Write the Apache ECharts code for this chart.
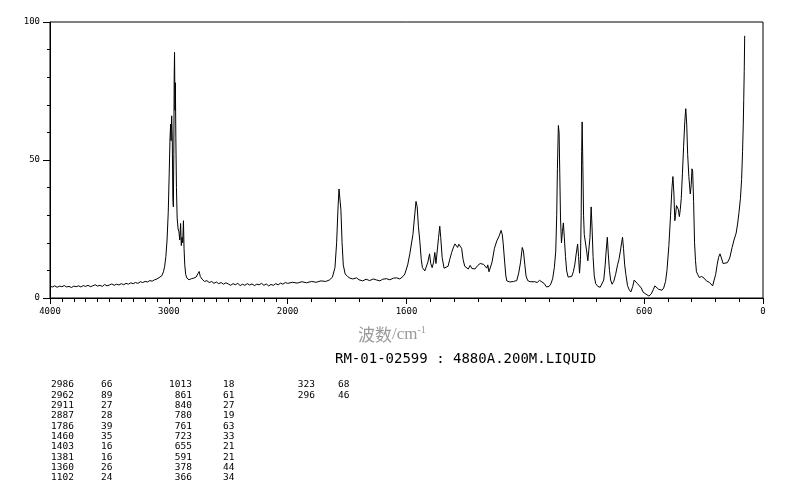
<!DOCTYPE html>
<html><head><meta charset="utf-8">
<script src="https://cdn.jsdelivr.net/npm/echarts@6/dist/echarts.min.js"></script>
<style>html,body{margin:0;padding:0;background:#fff}#c{width:794px;height:482px}</style>
</head><body><div id="c"></div><script>
// Spectrum: [wavenumber (cm-1), intensity]
const spectrum = [
[4000,4.2],[3980,4.0],[3960,4.4],[3940,3.9],[3920,4.3],[3900,4.1],[3880,4.5],[3860,4.0],[3840,4.2],[3820,3.8],
[3800,4.3],[3780,4.1],[3760,4.4],[3740,4.0],[3720,4.5],[3700,4.2],[3680,4.6],[3660,4.1],[3640,4.4],[3620,4.8],
[3600,4.3],[3580,4.6],[3560,4.2],[3540,4.9],[3520,4.4],[3500,4.7],[3480,5.1],[3460,4.6],[3440,5.0],[3420,4.7],
[3400,5.2],[3380,4.8],[3360,5.3],[3340,5.0],[3320,5.5],[3300,5.2],[3280,5.6],[3260,5.3],[3240,5.9],[3220,5.6],
[3200,6.0],[3180,5.8],[3160,6.3],[3140,6.1],[3120,6.6],[3100,6.9],[3085,7.5],
[3060,8],[3045,9.5],[3035,11.5],[3025,15],[3015,21],[3005,31],[2997,45],[2990,58],[2985,63],[2981,57],
[2976,66],[2971,58],[2966,36],[2962,33],[2958,52],[2955,80],[2952,89],[2948,68],[2945,78],[2941,58],
[2936,40],[2930,29],[2922,25],[2915,24],[2908,21],[2901,27],[2895,19],[2889,22],[2883,20],[2877,28],
[2872,18],[2866,12],[2858,8.5],
[2848,7.2],[2830,6.6],[2810,7.0],[2790,7.2],[2770,7.6],[2755,8.8],[2745,9.6],[2735,7.8],[2720,6.8],[2700,6.0],
[2680,6.3],[2660,5.6],[2640,6.0],[2620,5.3],[2600,5.8],[2580,5.2],[2560,5.6],[2540,5.0],[2520,5.5],[2500,5.1],
[2480,4.6],[2460,5.2],[2440,4.8],[2420,5.3],[2400,4.5],[2380,5.0],[2360,4.6],[2340,5.2],[2320,4.7],[2300,5.1],
[2280,4.5],[2260,5.0],[2240,4.8],[2220,5.3],[2200,4.6],[2180,5.1],[2160,4.4],[2140,4.9],[2120,4.6],[2100,5.2],
[2080,4.8],[2060,5.4],[2040,5.0],[2020,5.6],[2000,5.3],[1980,5.7],[1960,5.4],[1940,5.9],[1920,5.5],[1900,6.0],
[1880,5.7],[1860,6.2],[1840,6.0],[1825,6.5],[1812,7.5],[1801,11],[1794,20],[1788,33],[1784,39.5],[1780,39],
[1776,32],[1771,20],[1766,12],[1758,8.7],[1748,7.8],[1738,7.2],[1726,6.9],[1710,7.3],[1700,6.6],[1684,6.2],
[1670,6.8],[1655,6.3],[1640,6.9],[1625,6.5],[1612,6.2],[1600,6.8],[1585,7.0],[1570,6.6],[1555,7.2],[1541,7.3],
[1528,6.9],[1515,7.8],[1507,8.7],[1495,12],[1486,16],[1473,23],[1465,30.5],[1460,35],[1455,33],[1450,26],
[1444,20.7],[1438,14],[1433,11],[1423,9.8],[1417,10.2],[1410,13],[1403,16],[1398,12.5],[1392,11],[1386,13],
[1381,16.5],[1376,12.5],[1370,13],[1365,22],[1360,26],[1356,22],[1350,14.7],[1342,10.8],[1334,10.5],[1325,11.5],
[1318,14],[1310,16.5],[1302,18.5],[1296,19.6],[1290,19.8],[1285,18.3],[1280,19.5],[1274,20],[1268,18],[1262,14],
[1255,11.5],[1247,11],[1240,10.5],[1232,11.8],[1225,10.7],[1212,10.5],[1200,11.8],[1190,12.5],[1184,12.8],[1176,12.2],
[1168,11.5],[1162,10.8],[1158,12],[1153,9.5],[1148,9.2],[1140,13],[1130,18],[1120,20.7],[1110,22.5],[1102,24.5],
[1097,23],[1093,19.6],[1087,13],[1082,8],[1078,6.2],[1065,5.8],[1050,6.0],[1036,6.3],[1028,9],[1020,13],
[1013,18.3],[1008,17],[1002,12],[997,8],[990,6.3],[980,5.9],[973,5.6],[960,5.9],[950,5.6],[940,6.4],
[930,5.8],[920,5.2],[911,4.0],[900,4.2],[893,5.0],[885,7],[878,11],[872,17],[868,30],[865,47],
[861,62.5],[858,60],[855,45],[852,29],[848,20],[844,24],[840,27.2],[836,22],[831,15],[826,9.8],
[820,7.6],[812,7.4],[805,7.8],[798,9.5],[792,12],[786,16],[780,19.5],[776,15],[772,9],[768,14],
[765,30],[763,53],[761,63.8],[758,48],[755,30],[752,23],[747,23],[742,17],[737,13.5],[732,13],
[728,22],[723,33],[719,25],[715,15],[710,8],[704,5.2],[695,4.2],[685,3.9],[677,4.4],[670,6.5],
[664,12],[660,17],[655,22],[651,16],[646,10],[641,6.5],[635,5],[628,6],[620,8.6],[612,12],
[606,14],[600,17],[595,20],[591,22],[587,18],[582,12],[577,8.5],[570,4.5],[563,3],[556,2.2],
[548,4.2],[542,6.5],[536,6],[528,5.2],[520,4.8],[512,3.6],[505,2.2],[496,1.6],[488,1],[480,0.7],
[470,1.5],[462,3],[455,4.4],[447,3.8],[440,3.2],[432,2.5],[425,2.8],[418,3.6],[410,6],[404,10],
[396,19],[389,30],[383,40],[379,44],[375,38],[371,28],[368,30],[364,33.5],[360,34],[356,32],
[352,29.5],[348,32],[344,36],[339,45],[334,55],[329,64],[325,68.6],[321,63],[317,52],[312,44],
[306,37.7],[302,41],[299,46.8],[296,46],[292,35],[288,20],[284,13.5],[280,9.5],[275,8.6],[268,7.4],
[258,7.8],[248,7.2],[238,6.2],[225,5.6],[212,4.4],[206,4.8],[199,8.6],[193,12],[187,14.7],[181,16],
[175,14.5],[168,12.5],[160,12.3],[150,12.8],[140,14.5],[130,18.3],[122,21],[113,23.5],[107,26.8],[101,31],
[95,36],[90,43],[86,53],[83,63],[81,72],[79,82],[77,95]
];
// Axis tick labels (wavenumber position -> printed text)
const xLabelWaves = [4000, 3000, 2000, 1500, 500, 0];
const xLabelTexts = ['4000', '3000', '2000', '1600', '600', '0'];
// Peak table
const peakWaves = [2986,2962,2911,2887,1786,1460,1403,1381,1360,1102,1013,861,840,780,761,723,655,591,378,366,323,296];
const peakValues = [66,89,27,28,39,35,16,16,26,24,18,61,27,19,63,33,21,21,44,34,68,46];
const sampleText = 'RM-01-02599 : 4880A.200M.LIQUID';
const axisTitleCn = '波数';

// Broken axis: 4000-2000 compressed to half the scale of 2000-0
function toAxis(w) { return w <= 2000 ? w : 2000 + (w - 2000) / 2; }
const minorTickWaves = [];
for (let w = 0; w <= 4000; w += 100) minorTickWaves.push(w);
const labelMap = {};
xLabelWaves.forEach((w, i) => { labelMap[toAxis(w)] = xLabelTexts[i]; });

const GRID = {left: 50, right: 31, top: 22, bottom: 184};
const gridW = 794 - GRID.left - GRID.right;
const gridH = 482 - GRID.top - GRID.bottom;

const mono = 'DejaVu Sans Mono';
const graphics = [];
const rowsPerCol = 10;
const colRight = [74, 192, 315];
const colValLeft = [101, 223, 338];
peakWaves.forEach((w, i) => {
  const col = Math.floor(i / rowsPerCol), row = i % rowsPerCol;
  const y = 385 + row * 10.3;
  graphics.push({type: 'text', x: colRight[col], y: y, style: {text: String(w), fill: '#000', font: '9.5px "' + mono + '"', textAlign: 'right', textVerticalAlign: 'middle'}});
  graphics.push({type: 'text', x: colValLeft[col], y: y, style: {text: String(peakValues[i]), fill: '#000', font: '9.5px "' + mono + '"', textAlign: 'left', textVerticalAlign: 'middle'}});
});

const chart = echarts.init(document.getElementById('c'), null, {renderer: 'canvas'});
const axisFont = {fontFamily: mono, fontSize: 9, color: '#000'};
chart.setOption({
  animation: false,
  backgroundColor: '#fff',
  grid: Object.assign({show: true, borderColor: '#000', borderWidth: 1}, GRID),
  title: [
    {text: '{cn|' + axisTitleCn + '}{t|/cm}{sup|-1}', left: 353, top: 320,
     textStyle: {rich: {
       cn: {fontFamily: 'Noto Sans CJK SC', fontSize: 17, color: '#999', fontWeight: 'normal'},
       t: {fontFamily: 'Liberation Serif', fontSize: 17, color: '#999', fontWeight: 'normal'},
       sup: {fontFamily: 'Liberation Serif', fontSize: 10, color: '#999', fontWeight: 'normal', padding: [0, 0, 9, 0]}
     }}},
    {text: sampleText, left: 330, top: 347,
     textStyle: {fontFamily: mono, fontSize: 14, color: '#000', fontWeight: 'normal'}}
  ],
  xAxis: [
    {type: 'value', min: 0, max: 3000, inverse: true, position: 'bottom',
     axisLine: {show: true, onZero: false, lineStyle: {color: '#000', width: 1}},
     axisTick: {show: true, customValues: xLabelWaves.map(toAxis), length: 6, lineStyle: {color: '#000'}},
     axisLabel: Object.assign({show: true, customValues: xLabelWaves.map(toAxis), margin: 9,
       formatter: v => labelMap[v] !== undefined ? labelMap[v] : ''}, axisFont),
     splitLine: {show: false}},
    // minor ticks: top slot shifted down onto the bottom edge
    {type: 'value', min: 0, max: 3000, inverse: true, position: 'top', offset: -gridH,
     axisLine: {show: false, onZero: false},
     axisTick: {show: true, inside: true, customValues: minorTickWaves.map(toAxis), length: 4, lineStyle: {color: '#000'}},
     axisLabel: {show: false},
     splitLine: {show: false}}
  ],
  yAxis: [
    {type: 'value', min: 0, max: 100, interval: 50, position: 'left',
     axisLine: {show: true, onZero: false, lineStyle: {color: '#000', width: 1}},
     axisTick: {show: true, length: 7, lineStyle: {color: '#000'}},
     axisLabel: Object.assign({margin: 10}, axisFont),
     splitLine: {show: false}},
    // minor ticks: right slot shifted onto the left edge
    {type: 'value', min: 0, max: 100, interval: 10, position: 'right', offset: -gridW,
     axisLine: {show: false, onZero: false},
     axisTick: {show: true, inside: true, length: 3, lineStyle: {color: '#000'}},
     axisLabel: {show: false},
     splitLine: {show: false}}
  ],
  series: [{
    type: 'line', xAxisIndex: 0, yAxisIndex: 0, showSymbol: false, symbol: 'none', silent: true,
    lineStyle: {color: '#000', width: 1}, clip: true,
    data: spectrum.map(p => [toAxis(p[0]), p[1]])
  }],
  graphic: graphics
});
</script></body></html>
